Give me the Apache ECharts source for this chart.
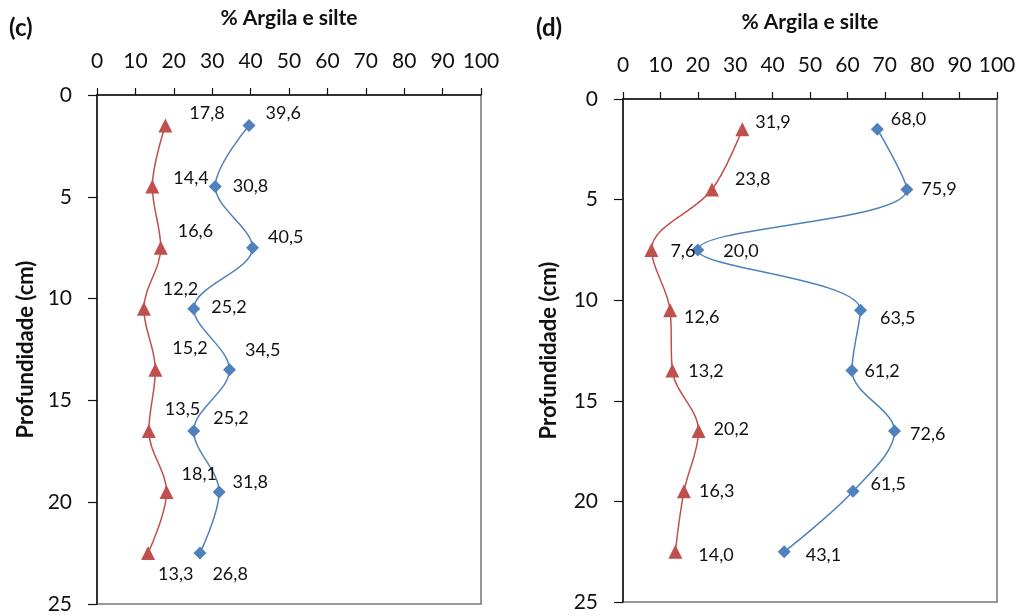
<!DOCTYPE html>
<html>
<head>
<meta charset="utf-8">
<script src="https://cdn.jsdelivr.net/npm/echarts@6/dist/echarts.min.js"></script>
<style>
html,body{margin:0;padding:0;background:#fff;}
#chart{width:1021px;height:615px;}
</style>
</head>
<body>
<div id="chart"></div>
<script>
// ---- data ----
var depths = [1.5, 4.5, 7.5, 10.5, 13.5, 16.5, 19.5, 22.5];
var xTicks = [0, 10, 20, 30, 40, 50, 60, 70, 80, 90, 100];
var yTicks = [0, 5, 10, 15, 20, 25];
var panelCBlue = [39.6, 30.8, 40.5, 25.2, 34.5, 25.2, 31.8, 26.8];
var panelCRed  = [17.8, 14.4, 16.6, 12.2, 15.2, 13.5, 18.1, 13.3];
var panelDBlue = [68.0, 75.9, 20.0, 63.5, 61.2, 72.6, 61.5, 43.1];
var panelDRed  = [31.9, 23.8, 7.6, 12.6, 13.2, 20.2, 16.3, 14.0];
var xTitle = '% Argila e silte';
var yTitle = 'Profundidade (cm)';
var panelLabels = ['(c)', '(d)'];

// ---- label placement (style) ----
var offCBlue = [[8,-12],[9,0],[7,-11],[9,-2],[7,-20],[11,-13],[5,-10],[4,21]];
var offCRed  = [[15,-12],[12,-8],[8,-17],[10,-20],[8,-22],[7,-22],[6,-18],[1,21]];
var offDBlue = [[5,-10],[6,0],[17,1],[11,8],[4,1],[7,3],[9,-7],[13,3]];
var offDRed  = [[4,-7],[14,-10],[10,1],[5,7],[7,1],[6,-2],[6,0],[14,3]];

var FONT = 'Lato';
var BLUE = '#4F81BD', RED = '#C0504D';

function fmt(v){ return v.toFixed(1).replace('.', ','); }

function buildData(vals, offs){
  return vals.map(function(v, i){
    return {
      value: [v, depths[i]],
      label: { offset: offs[i] }
    };
  });
}

function series(vals, offs, idx, color, symbol, size){
  return {
    type: 'line',
    xAxisIndex: idx, yAxisIndex: idx,
    data: buildData(vals, offs),
    smooth: 0.35,
    symbol: symbol,
    symbolSize: size,
    lineStyle: { color: color, width: 1.5 },
    itemStyle: { color: color },
    label: {
      show: true, position: 'right', distance: 2,
      fontFamily: FONT, fontSize: 18, color: '#111',
      formatter: function(p){ return fmt(p.value[0]); }
    },
    z: 3
  };
}

function xAxis(idx){
  return {
    gridIndex: idx, type: 'value', position: 'top',
    min: 0, max: 100, interval: 10,
    name: xTitle, nameLocation: 'middle', nameGap: 66,
    nameTextStyle: { fontFamily: FONT, fontSize: 21, fontWeight: 'bold', color: '#111' },
    axisLine: { show: true, lineStyle: { color: '#111', width: 1.5 } },
    axisTick: { show: true, length: 7, lineStyle: { color: '#111', width: 1.2 } },
    axisLabel: { fontFamily: FONT, fontSize: 21, color: '#111', margin: 23 },
    splitLine: { show: false }
  };
}
function yAxis(idx, gap){
  return {
    gridIndex: idx, type: 'value', inverse: true,
    min: 0, max: 25, interval: 5,
    name: yTitle, nameLocation: 'middle', nameGap: gap, nameRotate: 90,
    nameTextStyle: { fontFamily: FONT, fontSize: 22, fontWeight: 'bold', color: '#111' },
    axisLine: { show: true, lineStyle: { color: '#111', width: 1.5 } },
    axisTick: { show: true, length: 9, lineStyle: { color: '#111', width: 1.2 } },
    axisLabel: { fontFamily: FONT, fontSize: 21, color: '#111', margin: 25 },
    splitLine: { show: false }
  };
}

var chart = echarts.init(document.getElementById('chart'), null, { renderer: 'canvas' });
chart.setOption({
  backgroundColor: '#fff',
  animation: false,
  grid: [
    { left: 97, right: 540, top: 95, bottom: 11, show: true, borderColor: '#777', borderWidth: 1.5 },
    { left: 623, right: 24, top: 99, bottom: 13, show: true, borderColor: '#777', borderWidth: 1.5 }
  ],
  xAxis: [xAxis(0), xAxis(1)],
  yAxis: [yAxis(0, 60), yAxis(1, 63)],
  graphic: [
    { type: 'text', left: 9, top: 16, style: { text: panelLabels[0], font: 'bold 24px ' + FONT, fill: '#111' } },
    { type: 'text', left: 536, top: 16, style: { text: panelLabels[1], font: 'bold 24px ' + FONT, fill: '#111' } }
  ],
  series: [
    series(panelCBlue, offCBlue, 0, BLUE, 'diamond', 13),
    series(panelCRed, offCRed, 0, RED, 'triangle', 14),
    series(panelDBlue, offDBlue, 1, BLUE, 'diamond', 13),
    series(panelDRed, offDRed, 1, RED, 'triangle', 14)
  ]
});
</script>
</body>
</html>
